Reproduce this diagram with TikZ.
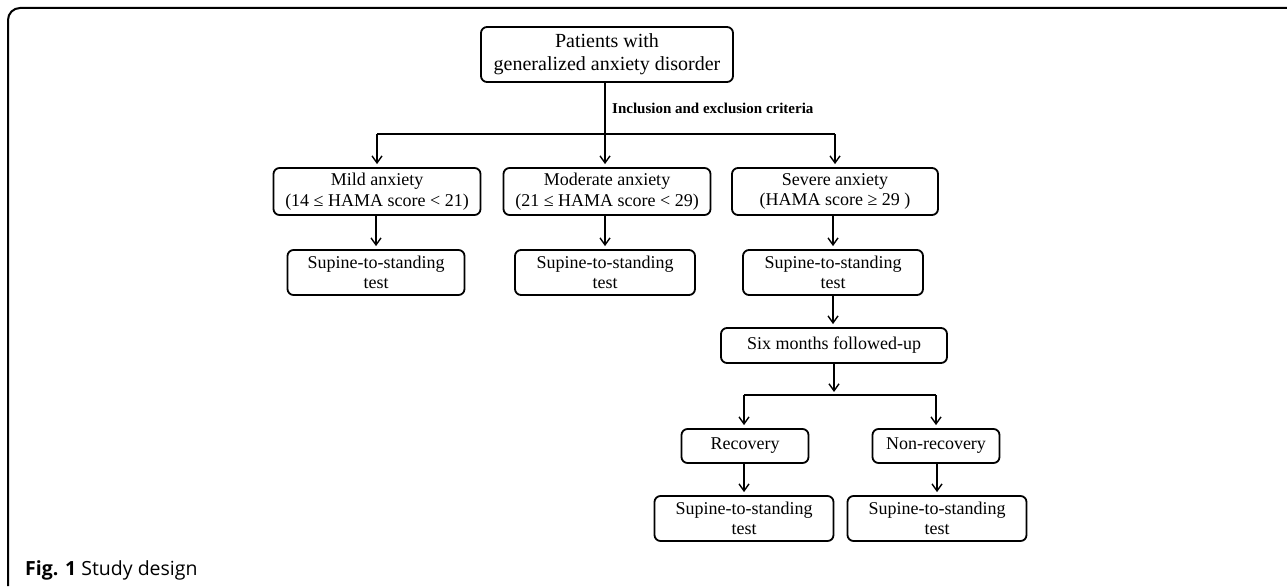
\documentclass[tikz,border=0pt]{standalone}
\usepackage{fontspec}
\setmainfont{Liberation Serif}
\newfontfamily\capfont{Open Sans}
\usetikzlibrary{arrows.meta}
\tikzset{
  fbox/.style={draw, rounded corners=6pt, line width=1.8pt, align=center, inner sep=0pt,
    font=\fontsize{18}{20.5}\selectfont},
  arr/.style={line width=1.4pt, -{Straight Barb[length=7pt,width=10pt]}, shorten >=3pt},
  ln/.style={line width=1.4pt}
}
\begin{document}
\begin{tikzpicture}[x=1pt,y=-1pt]
\useasboundingbox (0,0) rectangle (1287,586);
\draw[line width=2pt, rounded corners=12pt] (8,586) -- (8,8) -- (1287,8);

\node[fbox, minimum width=252pt, minimum height=55pt, font=\fontsize{20}{23}\selectfont] (top) at (607,54.5) {Patients with\\generalized anxiety disorder};
\node[fbox, minimum width=207pt, minimum height=47pt] (mild) at (377,191.5) {Mild anxiety\\(14 ≤ HAMA score < 21)};
\node[fbox, minimum width=207pt, minimum height=47pt] (mod) at (607,191.5) {Moderate anxiety\\(21 ≤ HAMA score < 29)};
\node[fbox, minimum width=206pt, minimum height=47pt] (sev) at (835,191.5) {Severe anxiety\\(HAMA score ≥ 29 )};
\node[fbox, minimum width=177pt, minimum height=45pt] (s1) at (376,272.5) {Supine-to-standing\\test};
\node[fbox, minimum width=180pt, minimum height=45pt] (s2) at (605,272.5) {Supine-to-standing\\test};
\node[fbox, minimum width=180pt, minimum height=45pt] (s3) at (833,272.5) {Supine-to-standing\\test};
\node[fbox, minimum width=226pt, minimum height=35pt] (six) at (834,345.5) {Six months followed-up};
\node[fbox, minimum width=127pt, minimum height=34pt] (rec) at (745,446) {Recovery};
\node[fbox, minimum width=127pt, minimum height=34pt] (non) at (936,446) {Non-recovery};
\node[fbox, minimum width=179pt, minimum height=45pt] (s4) at (744,518.5) {Supine-to-standing\\test};
\node[fbox, minimum width=179pt, minimum height=45pt] (s5) at (937,518.5) {Supine-to-standing\\test};

\node[anchor=west, inner sep=0pt, font=\bfseries\fontsize{15}{17}\selectfont] (lab) at (612,108) {Inclusion and exclusion criteria};

% top split
\coordinate (hl) at (377,134);
\coordinate (hr) at (835,134);
\draw[arr] (top.south -| 605,0) -- (605,0 |- mod.north);
\draw[ln] (hl) -- (hr);
\draw[arr] (hl) -- (hl |- mild.north);
\draw[arr] (hr) -- (hr |- sev.north);

\draw[arr] (mild.south -| s1.north) -- (s1.north);
\draw[arr] (mod.south -| s2.north) -- (s2.north);
\draw[arr] (sev.south -| s3.north) -- (s3.north);
\draw[arr] (s3.south) -- (s3.south |- six.north);

% bottom split
\coordinate (sx) at (834,392);
\coordinate (bl) at (744,395);
\coordinate (br) at (936,395);
\draw[arr, shorten >=0pt] (six.south) -- (sx);
\draw[ln] (bl) -- (br);
\draw[arr] (bl) -- (bl |- rec.north);
\draw[arr] (br) -- (br |- non.north);
\draw[arr] (rec.south -| s4.north) -- (s4.north);
\draw[arr] (non.south -| s5.north) -- (s5.north);

\node[anchor=base west, inner sep=0pt, font=\capfont\fontsize{19.5}{22}\selectfont] (cap) at (25,575) {\textbf{Fig. 1} Study design};
\end{tikzpicture}
\end{document}
